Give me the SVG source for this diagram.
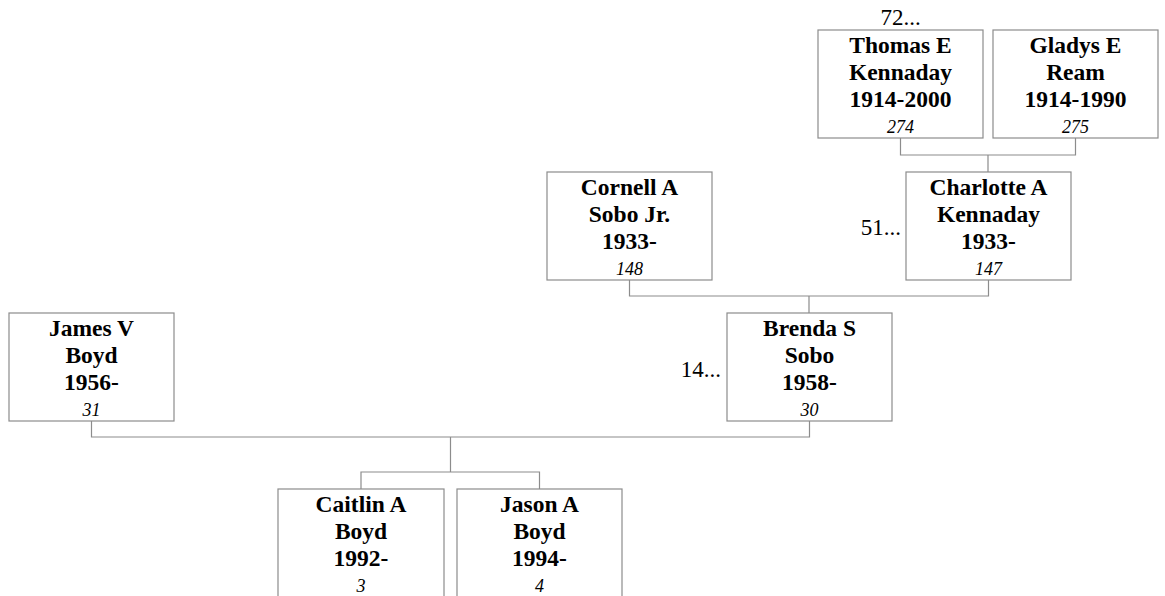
<svg xmlns="http://www.w3.org/2000/svg" width="1165" height="596" viewBox="0 0 1165 596">
<style>
.box{fill:#fff;stroke:#8c8c8c;stroke-width:1.2}
.nm{font-family:"Liberation Serif","Times New Roman",serif;font-weight:bold;font-size:23.5px;fill:#000;text-anchor:middle}
.id{font-family:"Liberation Serif","Times New Roman",serif;font-style:italic;font-size:18px;fill:#000;text-anchor:middle}
.more{font-family:"Liberation Serif","Times New Roman",serif;font-size:23px;fill:#000}
.con{fill:none;stroke:#8c8c8c;stroke-width:1.2}
</style>
<rect width="1165" height="596" fill="#fff"/>
<g id="connectors">
<path class="con" d="M900.5,138 V155 H1075.5 V138 M988,155 V172"/>
<path class="con" d="M629.5,280 V296 H988.5 V280 M809,296 V313"/>
<path class="con" d="M91.5,421 V437 H809.5 V421 M450.5,437 V472 M361,489 V472 H539.5 V489"/>
</g>
<g id="n274">
<rect class="box" x="818" y="30" width="165" height="108"/>
<text class="more" x="900.5" y="25" text-anchor="middle">72...</text>
<text class="nm" x="900.5" y="53">Thomas E</text>
<text class="nm" x="900.5" y="80">Kennaday</text>
<text class="nm" x="900.5" y="107">1914-2000</text>
<text class="id" x="900.5" y="133">274</text>
</g>
<g id="n275">
<rect class="box" x="993" y="30" width="165" height="108"/>
<text class="nm" x="1075.5" y="53">Gladys E</text>
<text class="nm" x="1075.5" y="80">Ream</text>
<text class="nm" x="1075.5" y="107">1914-1990</text>
<text class="id" x="1075.5" y="133">275</text>
</g>
<g id="n148">
<rect class="box" x="547" y="172" width="165" height="108"/>
<text class="nm" x="629.5" y="195">Cornell A</text>
<text class="nm" x="629.5" y="222">Sobo Jr.</text>
<text class="nm" x="629.5" y="249">1933-</text>
<text class="id" x="629.5" y="275">148</text>
</g>
<g id="n147">
<rect class="box" x="906" y="172" width="165" height="108"/>
<text class="more" x="901" y="235" text-anchor="end">51...</text>
<text class="nm" x="988.5" y="195">Charlotte A</text>
<text class="nm" x="988.5" y="222">Kennaday</text>
<text class="nm" x="988.5" y="249">1933-</text>
<text class="id" x="988.5" y="275">147</text>
</g>
<g id="n31">
<rect class="box" x="9" y="313" width="165" height="108"/>
<text class="nm" x="91.5" y="336">James V</text>
<text class="nm" x="91.5" y="363">Boyd</text>
<text class="nm" x="91.5" y="390">1956-</text>
<text class="id" x="91.5" y="416">31</text>
</g>
<g id="n30">
<rect class="box" x="727" y="313" width="165" height="108"/>
<text class="more" x="721" y="377" text-anchor="end">14...</text>
<text class="nm" x="809.5" y="336">Brenda S</text>
<text class="nm" x="809.5" y="363">Sobo</text>
<text class="nm" x="809.5" y="390">1958-</text>
<text class="id" x="809.5" y="416">30</text>
</g>
<g id="n3">
<rect class="box" x="278" y="489" width="166" height="108"/>
<text class="nm" x="361" y="512">Caitlin A</text>
<text class="nm" x="361" y="539">Boyd</text>
<text class="nm" x="361" y="566">1992-</text>
<text class="id" x="361" y="592">3</text>
</g>
<g id="n4">
<rect class="box" x="457" y="489" width="165" height="108"/>
<text class="nm" x="539.5" y="512">Jason A</text>
<text class="nm" x="539.5" y="539">Boyd</text>
<text class="nm" x="539.5" y="566">1994-</text>
<text class="id" x="539.5" y="592">4</text>
</g>
</svg>
